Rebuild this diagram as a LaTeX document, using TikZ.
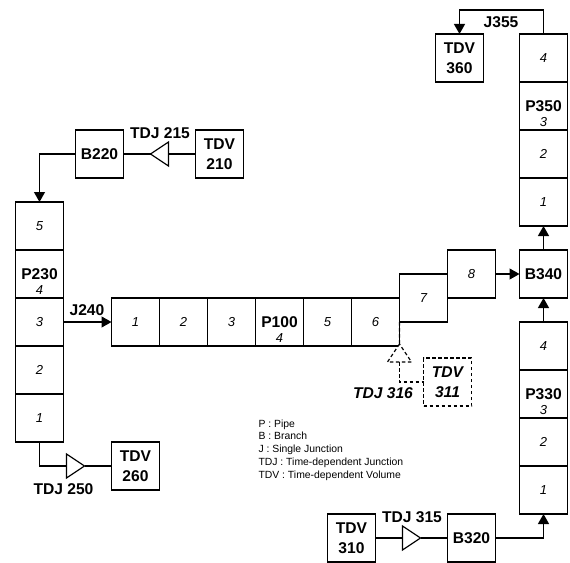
\documentclass[tikz,border=0pt]{standalone}
\usepackage{fontspec}
\setmainfont{Liberation Sans}
\usetikzlibrary{arrows.meta,shapes.geometric}
\tikzset{
  x=1bp,y=-1bp,
  every node/.style={inner sep=0pt,outer sep=0pt},
  box/.style={draw=black,line width=1.2bp,fill=white,minimum width=48bp,minimum height=48bp,align=center},
  cell/.style={box,font=\fontsize{13bp}{15bp}\selectfont\itshape},
  named/.style={box,font=\fontsize{15.6bp}{19.5bp}\selectfont\bfseries},
  dashbox/.style={named,dash pattern=on 3.5bp off 2.5bp,font=\fontsize{15.6bp}{19.5bp}\selectfont\bfseries\itshape},
  lab/.style={font=\fontsize{15.6bp}{19.5bp}\selectfont\bfseries},
  labit/.style={font=\fontsize{15.6bp}{19.5bp}\selectfont\bfseries\itshape},
  num/.style={font=\fontsize{13bp}{15bp}\selectfont\itshape},
  legend/.style={font=\fontsize{10.4bp}{12.8bp}\selectfont,align=left},
  tri/.style={draw=black,line width=1.2bp,fill=white,isosceles triangle,isosceles triangle stretches,minimum width=24bp,minimum height=18bp,anchor=lower side},
  wire/.style={draw=black,line width=1.2bp},
  dwire/.style={wire,dash pattern=on 3.5bp off 2.5bp},
  arr/.style={wire,-{Triangle[length=10bp,width=11bp]}}
}
\begin{document}
\begin{tikzpicture}
\useasboundingbox (0,0) rectangle (570,563);
% P230
\node[cell]  (a5) at (39.5,226) {5};
\node[named] (a4) at (39.5,274) {P230};
\node[cell]  (a3) at (39.5,322) {3};
\node[cell]  (a2) at (39.5,370) {2};
\node[cell]  (a1) at (39.5,418) {1};
\node[num]   (a4n) at (39.5,290) {4};
% P100
\node[cell]  (c1) at (135.5,322) {1};
\node[cell]  (c2) at (183.5,322) {2};
\node[cell]  (c3) at (231.5,322) {3};
\node[named] (c4) at (279.5,322) {P100};
\node[cell]  (c5) at (327.5,322) {5};
\node[cell]  (c6) at (375.5,322) {6};
\node[cell]  (c7) at (423.5,298) {7};
\node[cell]  (c8) at (471.5,274) {8};
\node[num]   (c4n) at (279.5,338) {4};
% P350
\node[cell]  (e4) at (543.5,58)  {4};
\node[named] (e3) at (543.5,106) {P350};
\node[cell]  (e2) at (543.5,154) {2};
\node[cell]  (e1) at (543.5,202) {1};
\node[num]   (e3n) at (543.5,122) {3};
% P330
\node[cell]  (d4) at (543.5,346) {4};
\node[named] (d3) at (543.5,394) {P330};
\node[cell]  (d2) at (543.5,442) {2};
\node[cell]  (d1) at (543.5,490) {1};
\node[num]   (d3n) at (543.5,410) {3};
% branches and volumes
\node[named] (b220) at (99.5,154)  {B220};
\node[named] (v210) at (219.5,154) {TDV\\210};
\node[named] (v260) at (135.5,466) {TDV\\260};
\node[named] (b340) at (543.5,274) {B340};
\node[named] (v360) at (459.5,58)  {TDV\\360};
\node[named] (b320) at (471.5,538) {B320};
\node[named] (v310) at (351.5,538) {TDV\\310};
\node[dashbox] (v311) at (447.5,382) {TDV\\311};
% valves
\node[tri,shape border rotate=180] (t215) at (168.5,154) {};
\node[tri] (t250) at (66.5,466) {};
\node[tri] (t315) at (402.5,538) {};
\node[tri,dash pattern=on 3.5bp off 2.5bp,shape border rotate=90] (t316) at (399.5,362) {};
% connectors
\draw[arr] (b220.west) -| (a5.north);
\draw[wire] (b220.east) -- (t215.apex);
\draw[wire] (t215.lower side) -- (v210.west);
\draw[arr] (a3.east) -- (c1.west);
\draw[wire] (a1.south) |- (t250.lower side);
\draw[wire] (t250.apex) -- (v260.west);
\draw[arr] (c8.east) -- (b340.west);
\draw[arr] (b340.north) -- (e1.south);
\draw[arr] (d4.north) -- (b340.south);
\draw[arr] (b320.east) -| (d1.south);
\draw[wire] (v310.east) -- (t315.lower side);
\draw[wire] (t315.apex) -- (b320.west);
\draw[arr] (e4.north) -- ++(0,-24) -| (v360.north);
\draw[dwire] (c7.south west) -- (t316.apex);
\draw[dwire] (t316.lower side) |- (v311.west);
% labels
\node[lab] (l215) at (160,133) {TDJ 215};
\node[lab] (l240) at (87,310) {J240};
\node[lab] (l355) at (501,22) {J355};
\node[lab] (l250) at (63.5,489) {TDJ 250};
\node[lab] (l315) at (412,517) {TDJ 315};
\node[labit] (l316) at (383,393) {TDJ 316};
\node[legend,anchor=north west] (leg) at (258.5,419.5) {P : Pipe\\B : Branch\\J : Single Junction\\TDJ : Time-dependent Junction\\TDV : Time-dependent Volume};
\end{tikzpicture}
\end{document}
